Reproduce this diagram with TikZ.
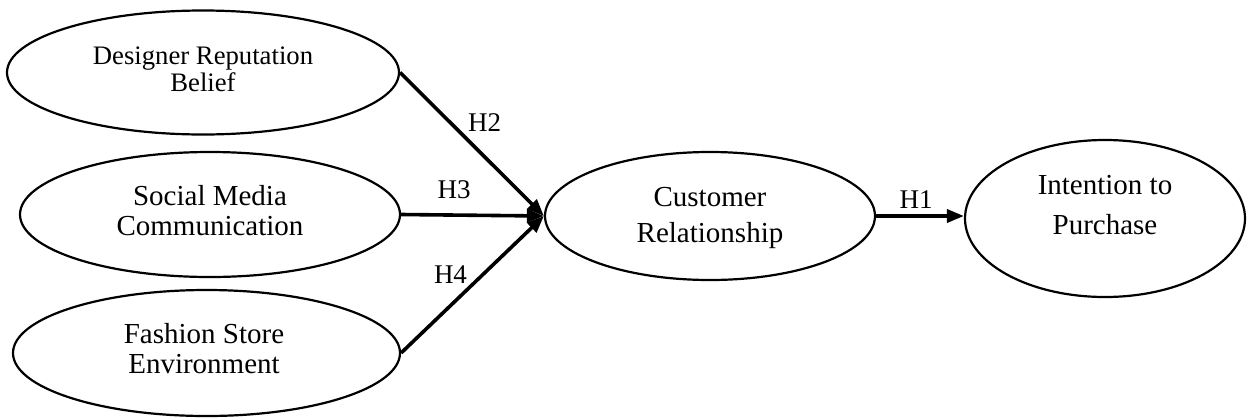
\documentclass[tikz,border=0pt]{standalone}
\usepackage{fontspec}
\setmainfont{Liberation Serif}
\usetikzlibrary{arrows.meta,shapes.geometric,calc}
\begin{document}
\begin{tikzpicture}[x=0.5pt,y=-0.5pt,
  ell/.style={draw, ellipse, line width=1.1pt, inner sep=0pt},
  txt/.style={align=center, inner sep=0pt, font=\fontsize{14.5}{15}\selectfont},
  lbl/.style={inner sep=0pt, font=\fontsize{13.5}{14}\selectfont},
  arr/.style={line width=1.8pt, -{Triangle[length=8.5pt,width=6.5pt]}}]
\useasboundingbox (0,0) rectangle (1247,418);
% ellipses
\node[ell, minimum width=196pt, minimum height=62pt] (e1) at (203,72.5) {};
\node[ell, minimum width=190pt, minimum height=62.5pt] (e2) at (210,214.5) {};
\node[ell, minimum width=193.5pt, minimum height=63pt] (e3) at (206.5,353) {};
\node[ell, minimum width=165pt, minimum height=64pt] (e4) at (710,216) {};
\node[ell, minimum width=140pt, minimum height=78.5pt] (e5) at (1105,218.5) {};
% texts
\node[txt, font=\fontsize{13.35}{13.5}\selectfont] (t1) at (203,69) {Designer Reputation\\Belief};
\node[txt] (t2) at (210,211) {Social Media\\Communication};
\node[txt] (t3) at (204,349) {Fashion Store\\Environment};
\node[txt, font=\fontsize{14.5}{18}\selectfont] (t4) at (710,218) {Customer\\Relationship};
\node[txt, font=\fontsize{14.5}{20}\selectfont] (t5) at (1105,205) {Intention to\\Purchase};
% connectors
\draw[arr] (e1.east) -- (e4.west);
\draw[arr] (e2.east) -- (e4.west);
\draw[arr] (e3.east) -- (e4.west);
\draw[arr] (e4.east) -- (e4.east -| e5.west);
% labels
\node[lbl] (h2) at (484.5,123) {H2};
\node[lbl] (h3) at (454,190) {H3};
\node[lbl] (h4) at (450.5,275) {H4};
\node[lbl] (h1) at (916,200) {H1};
\end{tikzpicture}
\end{document}
